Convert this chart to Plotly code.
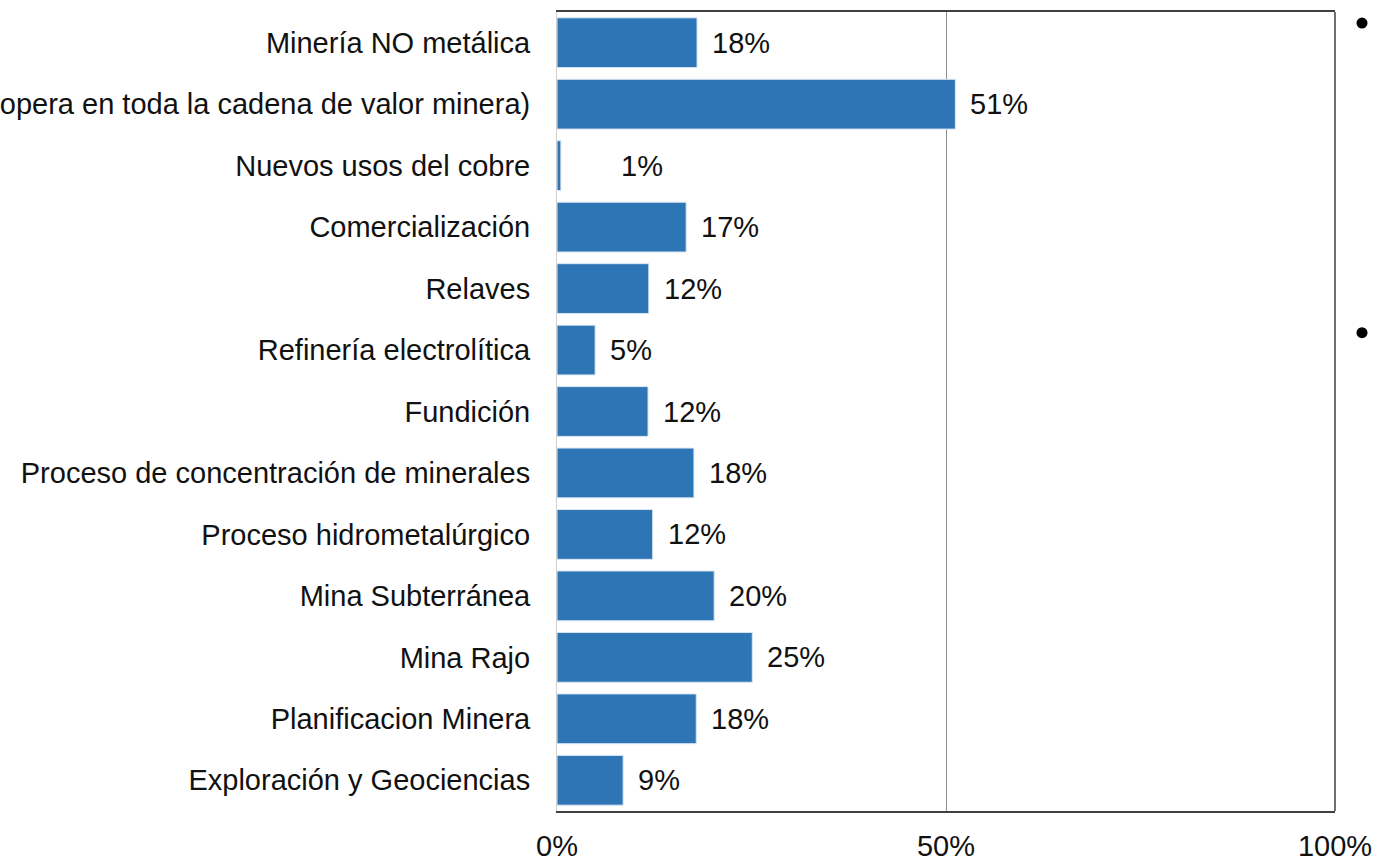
import plotly.graph_objects as go

# categories listed top to bottom as they appear in the chart
categories = [
    "Minería NO metálica",
    "Transversal (opera en toda la cadena de valor minera)",
    "Nuevos usos del cobre",
    "Comercialización",
    "Relaves",
    "Refinería electrolítica",
    "Fundición",
    "Proceso de concentración de minerales",
    "Proceso hidrometalúrgico",
    "Mina Subterránea",
    "Mina Rajo",
    "Planificacion Minera",
    "Exploración y Geociencias",
]
values = [18.0, 51.2, 0.5, 16.6, 11.8, 4.9, 11.7, 17.6, 12.3, 20.2, 25.1, 17.9, 8.5]
value_labels = ["18%", "51%", "1%", "17%", "12%", "5%", "12%", "18%", "12%", "20%", "25%", "18%", "9%"]
x_ticks = [0, 50, 100]
x_tick_labels = ["0%", "50%", "100%"]

BAR_COLOR = "#2E75B6"
FONT = "Liberation Sans, Arial, sans-serif"
FS = 29

fig = go.Figure()
fig.add_trace(go.Bar(
    y=categories,
    x=values,
    orientation="h",
    marker=dict(color=BAR_COLOR, line=dict(color="#dbe6f2", width=1)),
    width=0.81,
    hoverinfo="skip",
))

# value labels just past the end of each bar
for cat, val, lab in zip(categories, values, value_labels):
    shift = 58 if val < 1 else 13
    fig.add_annotation(
        x=val, y=cat, text=lab, showarrow=False,
        xanchor="left", yanchor="middle", xshift=shift,
        font=dict(size=FS, color="#111111", family=FONT),
    )

# the two bullet points at the right edge of the slide
for yc in [0.9862, 0.5986]:
    fig.add_shape(
        type="circle", xref="paper", yref="paper",
        x0=1.0347 - 0.0071, x1=1.0347 + 0.0071,
        y0=yc - 0.0069, y1=yc + 0.0069,
        fillcolor="#000000", line=dict(width=0),
    )

# dark right border of the plot area
fig.add_shape(type="line", xref="paper", yref="paper", x0=1, x1=1, y0=0, y1=1,
              line=dict(color="#404040", width=1.5))

fig.update_layout(
    width=1373,
    height=858,
    margin=dict(l=557, r=38, t=12, b=47),
    plot_bgcolor="white",
    paper_bgcolor="white",
    showlegend=False,
    font=dict(family=FONT, size=FS, color="#111111"),
    bargap=0.19,
)
fig.update_xaxes(
    range=[0, 100],
    tickvals=x_ticks,
    ticktext=x_tick_labels,
    showgrid=True,
    gridcolor="#8c8c8c",
    gridwidth=1,
    zeroline=False,
    showline=True,
    mirror=True,
    linecolor="#404040",
    linewidth=1.5,
    ticklabelstandoff=8,
    automargin=False,
    tickfont=dict(size=FS),
)
fig.update_yaxes(
    categoryorder="array",
    categoryarray=categories,
    autorange="reversed",
    showgrid=False,
    zeroline=False,
    showline=True,
    linecolor="#d0d0d0",
    ticklabelstandoff=20,
    automargin=False,
    tickfont=dict(size=FS),
)

# drop the default body margin so the 1373x858 figure fills the window exactly
fig.write_html(
    "out.html",
    config={"displayModeBar": False},
    post_script="document.body.style.margin = '0px';",
)
